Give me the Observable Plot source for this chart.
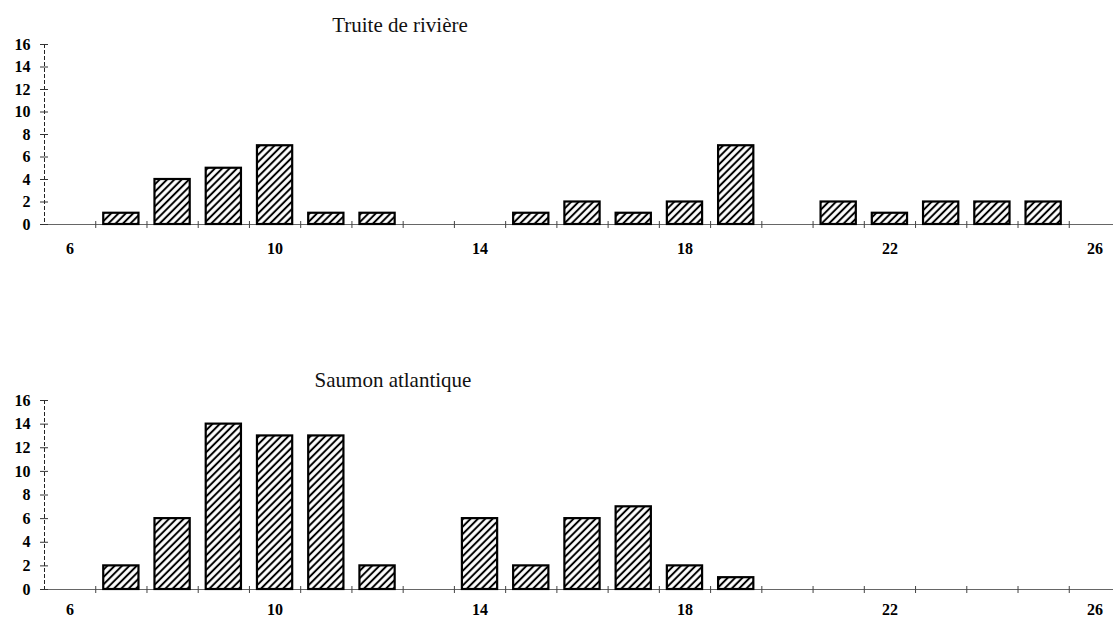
<!DOCTYPE html>
<html>
<head>
<meta charset="utf-8">
<script src="https://cdn.jsdelivr.net/npm/d3@7"></script>
<script src="https://cdn.jsdelivr.net/npm/@observablehq/plot@0.6"></script>
<style>
  html, body { margin: 0; padding: 0; background: #fff; }
  #wrap { position: relative; width: 1113px; height: 619px; overflow: hidden; background: #fff; }
  .title { position: absolute; width: 300px; text-align: center; font-family: "Liberation Serif", "Times New Roman", serif; font-size: 21px; line-height: 24px; color: #111; }
  .panel { position: absolute; left: 0; }
  .panel svg text { font-family: "Liberation Serif", "Times New Roman", serif; }
</style>
</head>
<body>
<svg width="0" height="0" style="position:absolute">
  <defs>
    <pattern id="hatch" patternUnits="userSpaceOnUse" width="5.2" height="5.2" patternTransform="rotate(45)">
      <rect width="5.2" height="5.2" fill="#fff"></rect>
      <line x1="2.6" y1="0" x2="2.6" y2="5.2" stroke="#000" stroke-width="2"></line>
    </pattern>
  </defs>
</svg>
<div id="wrap">
  <div class="title" style="left:250px; top:13px;">Truite de rivière</div>
  <div id="p1" class="panel" style="top:34px;"></div>
  <div class="title" style="left:243px; top:368px;">Saumon atlantique</div>
  <div id="p2" class="panel" style="top:390px;"></div>
</div>
<script>
// Length classes (categories) on the x axis
const categories = [6, 7, 8, 9, 10, 11, 12, 13, 14, 15, 16, 17, 18, 19, 20, 21, 22, 23, 24, 25, 26];
// Counts per category
const truite = [0, 1, 4, 5, 7, 1, 1, 0, 0, 1, 2, 1, 2, 7, 0, 2, 1, 2, 2, 2, 0];
const saumon = [0, 2, 6, 14, 13, 13, 2, 0, 6, 2, 6, 7, 2, 1, 0, 0, 0, 0, 0, 0, 0];
// Tick labels
const yTicks = [0, 2, 4, 6, 8, 10, 12, 14, 16];
const xLabels = [6, 10, 14, 18, 22, 26];

const serif = "'Liberation Serif', 'Times New Roman', serif";

function chart(values, opts) {
  const data = categories.map((c, i) => ({x: c, n: values[i]})).filter(d => d.n > 0);
  const bounds = categories.slice(1).map(c => c - 0.5);
  const blank = () => "";
  return Plot.plot({
    width: 1113,
    height: opts.height,
    marginLeft: 44,
    marginRight: -7,
    marginTop: opts.marginTop,
    marginBottom: opts.marginBottom,
    style: {fontFamily: serif, fontSize: "16px", color: "#000", background: "transparent", overflow: "visible"},
    x: {domain: [5.5, 26.5]},
    y: {domain: [0, 16]},
    marks: [
      Plot.ruleY([0], {stroke: "#666", strokeWidth: 1}),
      Plot.ruleX([5.5], {stroke: "#222", strokeWidth: 1, strokeDasharray: "4,2"}),
      Plot.axisY({ticks: yTicks, tickSize: 0, tickPadding: 14, fontWeight: "bold", fontFamily: serif, fontSize: 16, label: null}),
      Plot.axisY({ticks: yTicks, tickSize: 4, tickFormat: blank, label: null, stroke: "#333"}),
      Plot.axisY({ticks: yTicks, tickSize: -4, tickFormat: blank, label: null, stroke: "#333"}),
      Plot.axisX({ticks: xLabels, tickSize: 0, tickPadding: opts.labelPad, fontWeight: "bold", fontFamily: serif, fontSize: 16, label: null}),
      Plot.axisX({ticks: bounds, tickSize: 4, tickFormat: blank, label: null, stroke: "#444"}),
      Plot.axisX({ticks: bounds, tickSize: -3, tickFormat: blank, label: null, stroke: "#444"}),
      Plot.rectY(data, {x1: d => d.x - 0.5, x2: d => d.x + 0.5, y: "n", insetLeft: 8, insetRight: 8,
        fill: "url(#hatch)", stroke: "#000", strokeWidth: 2.2})
    ]
  });
}

document.getElementById("p1").appendChild(chart(truite, {height: 226, marginTop: 10, marginBottom: 36, labelPad: 18}));
document.getElementById("p2").appendChild(chart(saumon, {height: 229, marginTop: 10, marginBottom: 30, labelPad: 14}));
</script>
</body>
</html>
